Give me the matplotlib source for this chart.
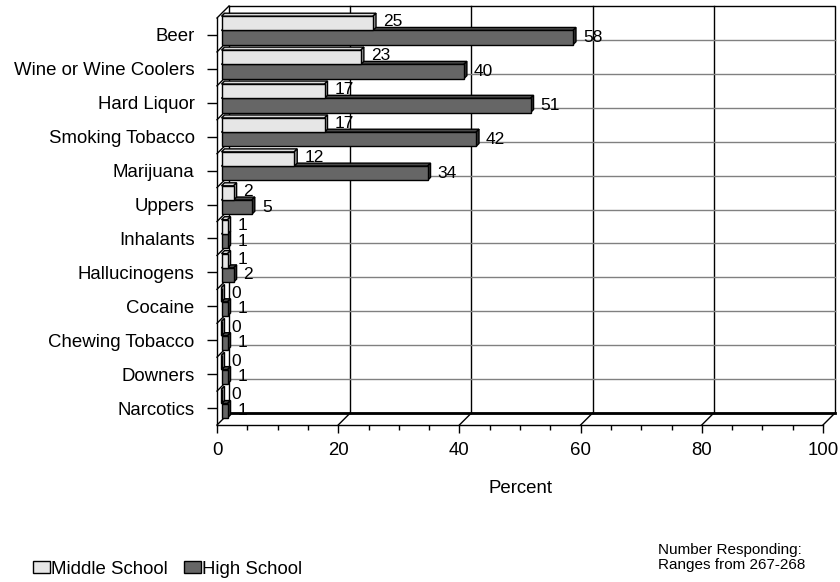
import matplotlib
matplotlib.use("Agg")
import matplotlib.pyplot as plt
from matplotlib.patches import Polygon, Patch

plt.rcParams['font.family'] = ['Liberation Sans', 'DejaVu Sans']

categories = ["Beer", "Wine or Wine Coolers", "Hard Liquor", "Smoking Tobacco",
              "Marijuana", "Uppers", "Inhalants", "Hallucinogens", "Cocaine",
              "Chewing Tobacco", "Downers", "Narcotics"]
middle_school = [25, 23, 17, 17, 12, 2, 1, 1, 0, 0, 0, 0]
high_school = [58, 40, 51, 42, 34, 5, 1, 2, 1, 1, 1, 1]
series_names = ["Middle School", "High School"]
xticks = [0, 20, 40, 60, 80, 100]

W, H = 840, 582
fig = plt.figure(figsize=(W / 100, H / 100), dpi=100)
ax = fig.add_axes([217 / W, 1 - 425 / H, 606 / W, 407 / H])
n = len(categories)
ax.set_xlim(0, 100)
ax.set_ylim(n - 0.5, -0.5)
for s in ax.spines.values():
    s.set_visible(False)

# 3D depth, 12 px up-right, in data units
DX = 12 * 100 / 606
DY = -12 * n / 407
f1, f2 = 0.375, 0.625      # bar front / back depth
bh = 0.42

kw = dict(color="black", lw=1, clip_on=False)
top, bot = -0.5, n - 0.5
# back wall
ax.plot([DX, 100 + DX, 100 + DX, DX, DX], [top + DY, top + DY, bot + DY, bot + DY, top + DY], zorder=1, **kw)
ax.plot([DX, 100 + DX], [bot + DY, bot + DY], color="black", lw=2, clip_on=False, zorder=1)
for x in xticks[1:-1]:
    ax.plot([x + DX, x + DX], [top + DY, bot + DY], zorder=1, **kw)
for k in range(n - 1):
    ax.plot([DX, 100 + DX], [k + 0.5 + DY, k + 0.5 + DY], color="#808080", lw=1, clip_on=False, zorder=1)
    ax.plot([0, DX], [k + 0.5, k + 0.5 + DY], zorder=1, **kw)
# left wall and floor
ax.plot([0, 0], [top, bot], zorder=2, **kw)
ax.plot([0, DX], [top, top + DY], zorder=2, **kw)
ax.plot([0, 100], [bot, bot], zorder=2, **kw)
for x in xticks:
    ax.plot([x, x + DX], [bot, bot + DY], zorder=2, **kw)


def bar3d(y0, y1, val, front, topc, side, z, dy):
    x0 = DX * f1
    ox, oy = DX * (f2 - f1), DY * (f2 - f1)
    yy0, yy1 = y0 + DY * f1, y1 + DY * f1
    ax.add_patch(Polygon([(x0, yy0), (x0 + ox, yy0 + oy), (x0 + val + ox, yy0 + oy), (x0 + val, yy0)],
                         closed=True, fc=topc, ec="black", lw=1, zorder=z, clip_on=False))
    ax.add_patch(Polygon([(x0 + val, yy0), (x0 + val + ox, yy0 + oy), (x0 + val + ox, yy1 + oy), (x0 + val, yy1)],
                         closed=True, fc=side, ec="black", lw=1, zorder=z, clip_on=False))
    ax.barh((yy0 + yy1) / 2, val, height=yy1 - yy0, left=x0, color=front, edgecolor="black",
            lw=1, zorder=z, clip_on=False)
    ax.annotate(str(val), xy=(x0 + val + ox, (yy0 + yy1) / 2 + oy), xytext=(7, dy),
                textcoords="offset pixels", ha="left", va="center", fontsize=12.5, zorder=6)


for k in range(n):
    bar3d(k, k + bh, high_school[k], "#666666", "#4a4a4a", "#333333", 3, -3)
for k in range(n):
    bar3d(k - bh, k, middle_school[k], "#e6e6e6", "#dadada", "#a0a0a0", 4, -1.5)

ax.set_yticks(range(n))
ax.set_yticklabels(categories, fontsize=13.4)
ax.set_xticks(xticks)
ax.set_xticklabels([str(x) for x in xticks], fontsize=13.4)
ax.set_xticks(range(0, 101, 5), minor=True)
ax.tick_params(axis="y", direction="out", length=7.2, width=1, pad=9)
ax.tick_params(axis="x", which="major", direction="out", length=5.5, width=1, pad=7)
ax.tick_params(axis="x", which="minor", direction="out", length=3.6, width=1)
ax.set_xlabel("Percent", fontsize=13.4, labelpad=15)

handles = [Patch(fc="#e6e6e6", ec="black"), Patch(fc="#666666", ec="black")]
fig.legend(handles, series_names, loc="center left", bbox_to_anchor=(33 / W, 1 - 569 / H),
           ncol=2, frameon=False, fontsize=13.4, handlelength=0.9, handleheight=0.6,
           handletextpad=0.05, columnspacing=0.9, borderaxespad=0, borderpad=0)
fig.text(658 / W, 1 - 543 / H, "Number Responding:\nRanges from 267-268", fontsize=11,
         ha="left", va="top", linespacing=1.05)

fig.savefig("out.png", dpi=100)
